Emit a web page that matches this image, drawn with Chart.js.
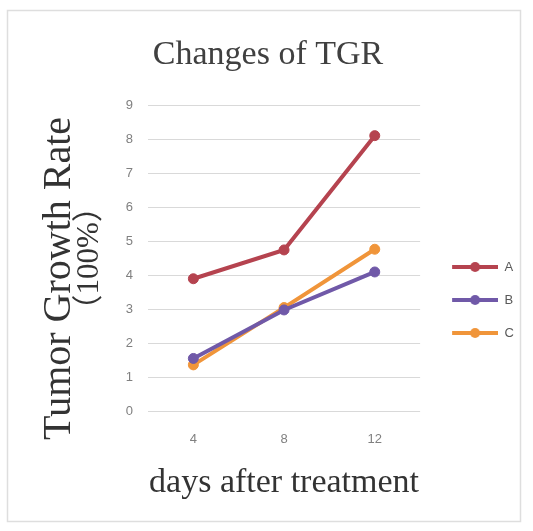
<!DOCTYPE html>
<html>
<head>
<meta charset="utf-8">
<script src="https://cdn.jsdelivr.net/npm/chart.js@4.4.1/dist/chart.umd.min.js"></script>
<style>
  body { margin: 0; background: #fff; }
  #wrap { width: 533px; height: 531px; }
</style>
</head>
<body>
<div id="wrap"><canvas id="tgr-chart" width="533" height="531"></canvas></div>
<script>
const days = ['4', '8', '12'];
const seriesA = [3.9, 4.75, 8.12];
const seriesB = [1.55, 2.98, 4.1];
const seriesC = [1.36, 3.05, 4.77];
const yTicks = [0, 1, 2, 3, 4, 5, 6, 7, 8, 9];

const colors = ['#b5434f', '#7059a8', '#f0953a'];

// legend sample: line with a dot in the middle
function legendMark(color) {
  const c = document.createElement('canvas');
  c.width = 58;
  c.height = 14;
  const g = c.getContext('2d');
  g.strokeStyle = color;
  g.lineWidth = 4;
  g.beginPath();
  g.moveTo(12, 7);
  g.lineTo(58, 7);
  g.stroke();
  g.fillStyle = color;
  g.beginPath();
  g.arc(35, 7, 5, 0, Math.PI * 2);
  g.fill();
  return c;
}
const marks = colors.map(legendMark);

const frame = {
  id: 'frame',
  beforeDraw(chart) {
    const ctx = chart.ctx;
    ctx.save();
    ctx.strokeStyle = '#dedede';
    ctx.lineWidth = 1.5;
    ctx.strokeRect(7.5, 10.5, 513, 511);
    ctx.restore();
  }
};

function line(label, data, color) {
  return {
    label: label,
    data: data,
    borderColor: color,
    backgroundColor: color,
    borderWidth: 4,
    pointRadius: 5,
    pointBorderWidth: 1,
    pointBackgroundColor: color,
    pointBorderColor: color,
    tension: 0
  };
}

const serif = "'Liberation Serif', 'Noto Sans CJK SC', serif";
const sans = "'Liberation Sans', sans-serif";

const tgrChart = new Chart(document.getElementById('tgr-chart'), {
  type: 'line',
  data: {
    labels: days,
    datasets: [
      line('A', seriesA, colors[0]),
      line('B', seriesB, colors[1]),
      line('C', seriesC, colors[2])
    ]
  },
  plugins: [frame],
  options: {
    responsive: false,
    animation: false,
    devicePixelRatio: 1,
    layout: { padding: { left: 12, right: 9, top: 0, bottom: 0 } },
    plugins: {
      title: {
        display: true,
        text: 'Changes of TGR',
        color: '#404040',
        font: { family: serif, size: 34, weight: 'normal' },
        padding: { top: 35, bottom: 30 }
      },
      legend: {
        position: 'right',
        maxWidth: 130,
        title: {
          display: true,
          text: ' ',
          font: { size: 10 },
          padding: { top: 57, bottom: 0 }
        },
        labels: {
          usePointStyle: true,
          pointStyleWidth: 58,
          padding: 20,
          color: '#595959',
          font: { family: sans, size: 13 },
          generateLabels(chart) {
            const items = Chart.defaults.plugins.legend.labels.generateLabels(chart);
            items.forEach((it, i) => { it.pointStyle = marks[i]; });
            return items;
          }
        }
      },
      tooltip: { enabled: false }
    },
    scales: {
      x: {
        offset: true,
        grid: { display: false, drawTicks: false },
        border: { display: false },
        ticks: { padding: 21, color: '#808080', font: { family: sans, size: 13 } },
        title: {
          display: true,
          text: 'days after treatment',
          color: '#333333',
          font: { family: serif, size: 34, lineHeight: 1 },
          padding: { top: -2.6, bottom: 31 }
        }
      },
      y: {
        weight: 0,
        min: yTicks[0],
        max: yTicks[yTicks.length - 1],
        afterBuildTicks(axis) {
          axis.ticks = yTicks.map(v => ({ value: v }));
        },
        afterFit(axis) { axis.width = 74; },
        grid: { color: '#d9d9d9', lineWidth: 1, drawTicks: false },
        border: { display: false },
        ticks: { padding: 15, color: '#808080', font: { family: sans, size: 13 } },
        title: {
          display: true,
          text: '（100%）',
          color: '#333333',
          font: { family: serif, size: 31, lineHeight: 1 },
          padding: { top: 0, bottom: 0 }
        }
      },
      // outer axis only carries the first line of the y title
      yName: {
        type: 'linear',
        position: 'left',
        weight: 1,
        afterFit(axis) { axis.width = 62; },
        grid: { display: false, drawTicks: false },
        border: { display: false },
        ticks: { display: false },
        title: {
          display: true,
          text: 'Tumor Growth Rate    ',
          color: '#333333',
          font: { family: serif, size: 40, lineHeight: 1 },
          padding: { top: 27, bottom: 0 }
        }
      }
    }
  }
});
</script>
</body>
</html>
